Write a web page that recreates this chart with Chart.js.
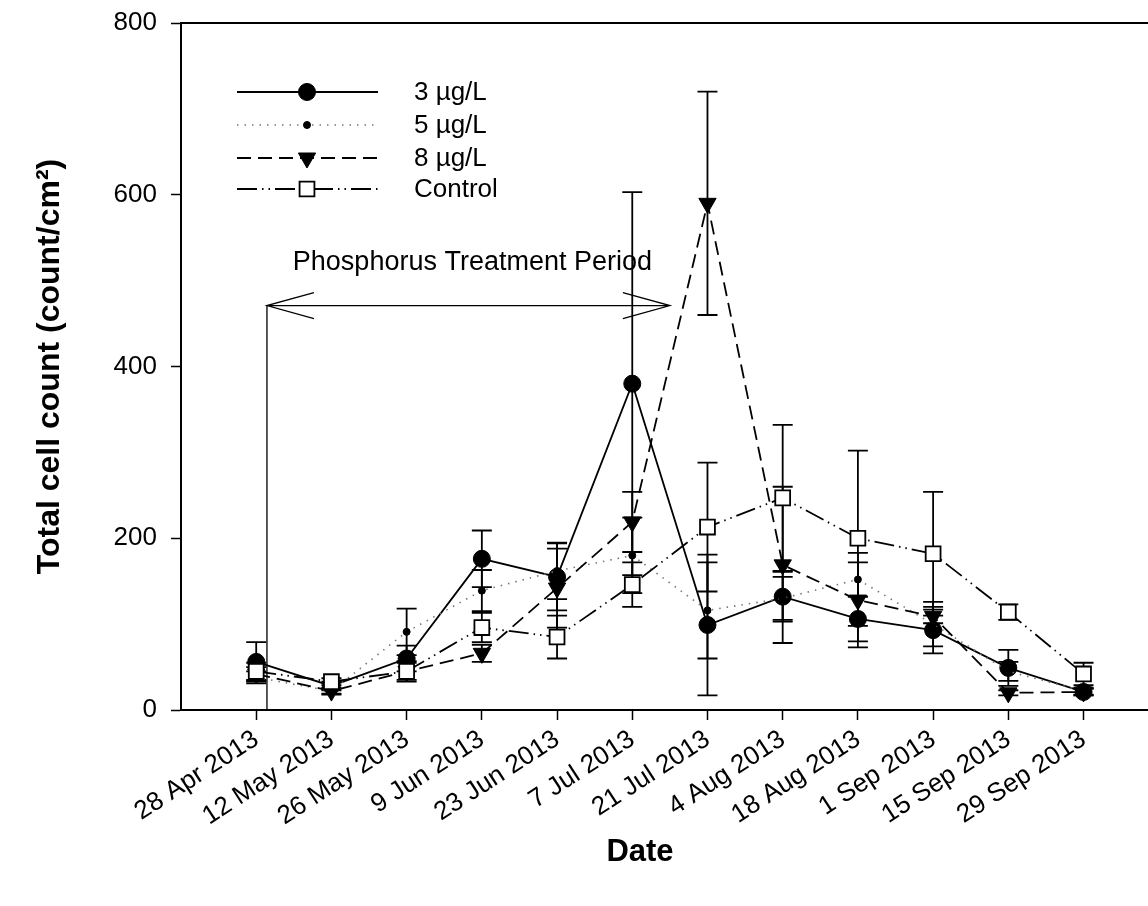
<!DOCTYPE html>
<html>
<head>
<meta charset="utf-8">
<script src="https://cdn.jsdelivr.net/npm/chart.js@4/dist/chart.umd.min.js"></script>
<style>
  html, body { margin: 0; padding: 0; background: #fff; }
  #wrap { width: 1148px; height: 906px; }
</style>
</head>
<body>
<div id="wrap"><canvas id="c" width="1148" height="906"></canvas></div>
<script>
// ---------- data ----------
const dayOffsets = [0, 14, 28, 42, 56, 70, 84, 98, 112, 126, 140, 154];
const dateLabels = ['28 Apr 2013', '12 May 2013', '26 May 2013', '9 Jun 2013', '23 Jun 2013', '7 Jul 2013',
                    '21 Jul 2013', '4 Aug 2013', '18 Aug 2013', '1 Sep 2013', '15 Sep 2013', '29 Sep 2013'];
const yTicks = [0, 200, 400, 600, 800];

const p3 =        [56, 28, 60, 176, 155, 380, 99, 132, 106, 93, 49, 21];
const p3Err =     [23, 5, 15, 33, 39, 223, 82, 29, 26, 27, 21, 4];
const p5 =        [38, 22, 91, 139, 162, 180, 116, 130, 152, 100, 45, 22];
const p5Err =     [7, 3, 27, 24, 33, 44, 56, 25, 20, 26, 11, 4];
const p8 =        [42, 22, 45, 66, 142, 219, 590, 169, 128, 109, 20, 21];
const p8Err =     [8, 4, 12, 10, 46, 35, 130, 91, 55, 8, 3, 4];
const control =   [45, 33, 45, 96, 85, 146, 213, 247, 200, 182, 114, 42];
const controlErr = [10, 4, 10, 17, 25, 26, 75, 85, 102, 72, 9, 13];

const seriesNames = ['3 µg/L', '5 µg/L', '8 µg/L', 'Control'];
const treatmentLabel = 'Phosphorus Treatment Period';
const treatmentStartDay = 2;
const treatmentEndDay = 77;
const treatmentArrowValue = 471;

// ---------- styles ----------
const FONT = 'Liberation Sans, Arial, Helvetica, sans-serif';
Chart.defaults.font.family = FONT;
Chart.defaults.color = '#000';

const styles = [
  { color: '#000', dash: [], width: 1.8, point: 'circle', radius: 8.5, rot: 0, fill: '#000' },
  { color: '#777', dash: [1.5, 6], width: 1.6, point: 'circle', radius: 3.5, rot: 0, fill: '#000' },
  { color: '#000', dash: [14, 7], width: 1.8, point: 'triangle', radius: 10, rot: 180, fill: '#000' },
  { color: '#000', dash: [20, 5, 1.5, 5, 1.5, 5], width: 1.8, point: 'rect', radius: 10.5, rot: 0, fill: '#fff' }
];
const seriesValues = [p3, p5, p8, control];
const seriesErrors = [p3Err, p5Err, p8Err, controlErr];

function pts(vals) { return vals.map((v, i) => ({ x: dayOffsets[i], y: v })); }

const datasets = seriesValues.map((vals, k) => ({
  label: seriesNames[k],
  data: pts(vals),
  errors: seriesErrors[k],
  borderColor: styles[k].color,
  borderDash: styles[k].dash,
  borderWidth: styles[k].width,
  pointStyle: styles[k].point,
  pointRadius: styles[k].radius,
  pointRotation: styles[k].rot,
  pointBackgroundColor: styles[k].fill,
  pointBorderColor: '#000',
  pointBorderWidth: k === 3 ? 1.8 : 1,
  tension: 0,
  fill: false,
  order: [3, 2, 1, 0][k]
}));

function drawMarker(ctx, st, x, y) {
  ctx.save();
  ctx.setLineDash([]);
  ctx.fillStyle = st.fill;
  ctx.strokeStyle = '#000';
  ctx.lineWidth = st.point === 'rect' ? 1.8 : 1;
  ctx.beginPath();
  const r = st.radius;
  if (st.point === 'circle') {
    ctx.arc(x, y, r, 0, Math.PI * 2);
  } else if (st.point === 'triangle') {
    let rad = st.rot * Math.PI / 180;
    ctx.moveTo(x + Math.sin(rad) * r, y - Math.cos(rad) * r);
    rad += 2 * Math.PI / 3;
    ctx.lineTo(x + Math.sin(rad) * r, y - Math.cos(rad) * r);
    rad += 2 * Math.PI / 3;
    ctx.lineTo(x + Math.sin(rad) * r, y - Math.cos(rad) * r);
    ctx.closePath();
  } else {
    const s = r * Math.SQRT1_2;
    ctx.rect(x - s, y - s, 2 * s, 2 * s);
  }
  ctx.fill();
  ctx.stroke();
  ctx.restore();
}

const whiteBg = {
  id: 'whiteBg',
  beforeDraw(chart) {
    const c = chart.ctx;
    c.save(); c.fillStyle = '#fff'; c.fillRect(0, 0, chart.width, chart.height); c.restore();
  }
};

const errorBars = {
  id: 'errorBars',
  beforeDatasetsDraw(chart) {
    const c = chart.ctx, xs = chart.scales.x, ys = chart.scales.y;
    c.save();
    c.strokeStyle = '#000';
    c.lineWidth = 1.8;
    c.setLineDash([]);
    chart.data.datasets.forEach(ds => {
      ds.data.forEach((p, j) => {
        const e = ds.errors[j];
        const x = xs.getPixelForValue(p.x);
        const yt = ys.getPixelForValue(p.y + e);
        const yb = ys.getPixelForValue(Math.max(0, p.y - e));
        c.beginPath();
        c.moveTo(x, yt); c.lineTo(x, yb);
        c.moveTo(x - 10, yt); c.lineTo(x + 10, yt);
        c.moveTo(x - 10, yb); c.lineTo(x + 10, yb);
        c.stroke();
      });
    });
    c.restore();
  }
};

const annotations = {
  id: 'annotations',
  afterDraw(chart) {
    const c = chart.ctx, xs = chart.scales.x, ys = chart.scales.y, a = chart.chartArea;
    c.save();
    // top frame line
    c.strokeStyle = '#000';
    c.lineWidth = 2;
    c.beginPath();
    c.moveTo(a.left, a.top); c.lineTo(a.right, a.top);
    c.stroke();

    // treatment period arrow
    const x1 = xs.getPixelForValue(treatmentStartDay);
    const x2 = xs.getPixelForValue(treatmentEndDay);
    const ya = ys.getPixelForValue(treatmentArrowValue);
    c.lineWidth = 1.3;
    c.beginPath();
    c.moveTo(x1, ya); c.lineTo(x2, ya);
    c.moveTo(x1, ya); c.lineTo(x1, a.bottom);
    c.moveTo(x1 + 47, ya - 13); c.lineTo(x1, ya); c.lineTo(x1 + 47, ya + 13);
    c.moveTo(x2 - 47, ya - 13); c.lineTo(x2, ya); c.lineTo(x2 - 47, ya + 13);
    c.stroke();

    c.fillStyle = '#000';
    c.font = '27px ' + FONT;
    c.textAlign = 'center';
    c.textBaseline = 'middle';
    c.fillText(treatmentLabel, (x1 + x2) / 2 + 4, ya - 43);

    // legend
    const legX0 = 237, legX1 = 378, legMx = 307, legTx = 414;
    const legY = [92, 125, 158, 189];
    styles.forEach((st, k) => {
      c.save();
      c.strokeStyle = st.color;
      c.lineWidth = st.width;
      c.setLineDash(st.dash);
      c.beginPath();
      c.moveTo(legX0, legY[k]); c.lineTo(legX1, legY[k]);
      c.stroke();
      c.restore();
      drawMarker(c, st, legMx, legY[k]);
      c.fillStyle = '#000';
      c.font = '26px ' + FONT;
      c.textAlign = 'left';
      c.textBaseline = 'middle';
      c.fillText(seriesNames[k], legTx, legY[k] + 1);
    });

    // x axis title
    c.font = 'bold 31px ' + FONT;
    c.textAlign = 'center';
    c.textBaseline = 'middle';
    c.fillText('Date', 640, 852);
    c.restore();
  }
};

new Chart(document.getElementById('c'), {
  type: 'line',
  data: { datasets },
  options: {
    responsive: false,
    animation: false,
    events: [],
    layout: { autoPadding: false, padding: { top: 23, right: 0, bottom: 0, left: 0 } },
    plugins: { legend: { display: false }, tooltip: { enabled: false } },
    scales: {
      x: {
        type: 'linear',
        min: -14,
        max: 166,
        afterBuildTicks: s => { s.ticks = dayOffsets.map(v => ({ value: v })); },
        afterFit: s => { s.height = 196; s.paddingLeft = 0; s.paddingRight = 0; s.paddingTop = 0; s.paddingBottom = 0; },
        grid: { display: true, drawOnChartArea: false, drawTicks: true, tickLength: 10, color: '#000', tickColor: '#000', tickWidth: 1.5 },
        border: { display: true, color: '#000', width: 2 },
        ticks: {
          autoSkip: false,
          minRotation: 33,
          maxRotation: 33,
          padding: 4,
          font: { size: 26 },
          color: '#000',
          callback: v => { const i = dayOffsets.indexOf(v); return i >= 0 ? dateLabels[i] : ''; }
        }
      },
      y: {
        min: 0,
        max: 800,
        afterBuildTicks: s => { s.ticks = yTicks.map(v => ({ value: v })); },
        afterFit: s => { s.width = 181; s.paddingTop = 0; s.paddingBottom = 0; s.paddingLeft = 0; s.paddingRight = 0; },
        grid: { display: true, drawOnChartArea: false, drawTicks: true, tickLength: 10, color: '#000', tickColor: '#000', tickWidth: 1.5 },
        border: { display: true, color: '#000', width: 2 },
        ticks: { padding: 14, font: { size: 26 }, color: '#000' },
        title: {
          display: true,
          text: 'Total cell count (count/cm²)',
          font: { size: 32, weight: 'bold' },
          color: '#000',
          padding: { top: 31, bottom: 0 }
        }
      }
    }
  },
  plugins: [whiteBg, errorBars, annotations]
});
</script>
</body>
</html>
